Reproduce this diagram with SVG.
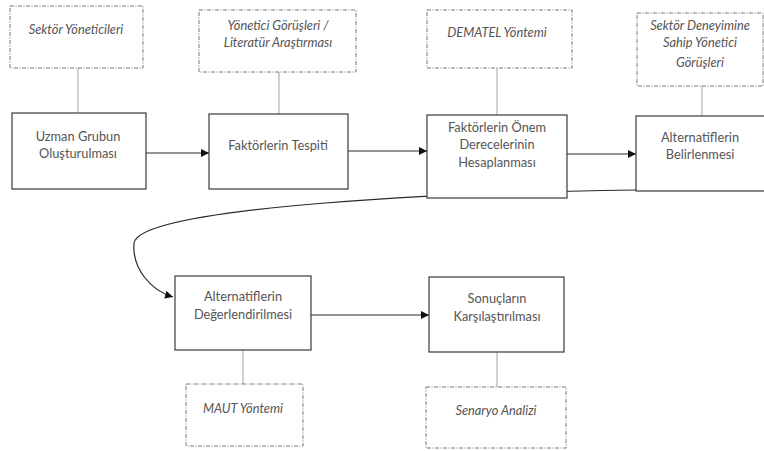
<svg xmlns="http://www.w3.org/2000/svg" width="764" height="451" viewBox="0 0 764 451">
<style>
.n{fill:#fff;stroke:#3a3a3a;stroke-width:1.2}
.s{fill:#fff;stroke:#777;stroke-width:1;stroke-dasharray:4 1.5 1 1.5}
.t{font-family:Lato,"Open Sans",sans-serif;font-size:12.8px;fill:#555;text-anchor:middle}
.i{font-style:italic}
.l{stroke:#a0a0a0;stroke-width:1;fill:none}
.a{stroke:#2a2a2a;stroke-width:1.2;fill:none;marker-end:url(#ah)}
</style>
<defs>
<marker id="ah" viewBox="0 0 10 10" refX="10" refY="5" markerWidth="8" markerHeight="8" markerUnits="userSpaceOnUse" orient="auto">
<path d="M0,0 L10,5 L0,10 z" fill="#111"/>
</marker>
</defs>
<g id="connectors">
<line class="l" x1="78" y1="68" x2="78" y2="113"/>
<line class="l" x1="279" y1="72" x2="279" y2="114"/>
<line class="l" x1="497" y1="68" x2="497" y2="115"/>
<line class="l" x1="702" y1="86" x2="702" y2="116"/>
<line class="l" x1="243" y1="350" x2="243" y2="384"/>
<line class="l" x1="497" y1="352" x2="497" y2="387"/>
<line class="a" x1="146" y1="153" x2="209" y2="153"/>
<line class="a" x1="348" y1="151" x2="427" y2="151"/>
<line class="a" x1="567" y1="154" x2="636" y2="154"/>
<path class="a" d="M636,190 C400,193 140,210 134,243 C132,268 150,290 173,297"/>
<line class="a" x1="311" y1="315" x2="429" y2="315"/>
</g>
<g id="s1"><rect class="s" x="10" y="6" width="133" height="62"/><text class="t i" x="76" y="34">Sektör Yöneticileri</text></g>
<g id="s2"><rect class="s" x="199" y="10" width="157" height="62"/><text class="t i" x="278" y="30">Yönetici Görüşleri /</text><text class="t i" x="278" y="47">Literatür Araştırması</text></g>
<g id="s3"><rect class="s" x="427" y="10" width="145" height="58"/><text class="t i" x="497" y="37">DEMATEL Yöntemi</text></g>
<g id="s4"><rect class="s" x="637" y="13" width="126" height="73"/><text class="t i" x="700" y="30">Sektör Deneyimine</text><text class="t i" x="700" y="47">Sahip Yönetici</text><text class="t i" x="700" y="67">Görüşleri</text></g>
<g id="n1"><rect class="n" x="12" y="113" width="134" height="76"/><text class="t" x="78" y="141">Uzman Grubun</text><text class="t" x="78" y="158">Oluşturulması</text></g>
<g id="n2"><rect class="n" x="209" y="114" width="139" height="75"/><text class="t" x="278" y="150">Faktörlerin Tespiti</text></g>
<g id="n3"><rect class="n" x="427" y="115" width="140" height="83"/><text class="t" x="497" y="132">Faktörlerin Önem</text><text class="t" x="497" y="149">Derecelerinin</text><text class="t" x="497" y="167">Hesaplanması</text></g>
<g id="n4"><rect class="n" x="636" y="116" width="130" height="75"/><text class="t" x="700" y="142">Alternatiflerin</text><text class="t" x="700" y="159">Belirlenmesi</text></g>
<g id="n5"><rect class="n" x="175" y="276" width="136" height="74"/><text class="t" x="243" y="301">Alternatiflerin</text><text class="t" x="243" y="319">Değerlendirilmesi</text></g>
<g id="n6"><rect class="n" x="429" y="277" width="135" height="75"/><text class="t" x="497" y="303">Sonuçların</text><text class="t" x="497" y="321">Karşılaştırılması</text></g>
<g id="s5"><rect class="s" x="186" y="384" width="117" height="62"/><text class="t i" x="243" y="413">MAUT Yöntemi</text></g>
<g id="s6"><rect class="s" x="426" y="387" width="140" height="61"/><text class="t i" x="496" y="415">Senaryo Analizi</text></g>
</svg>
